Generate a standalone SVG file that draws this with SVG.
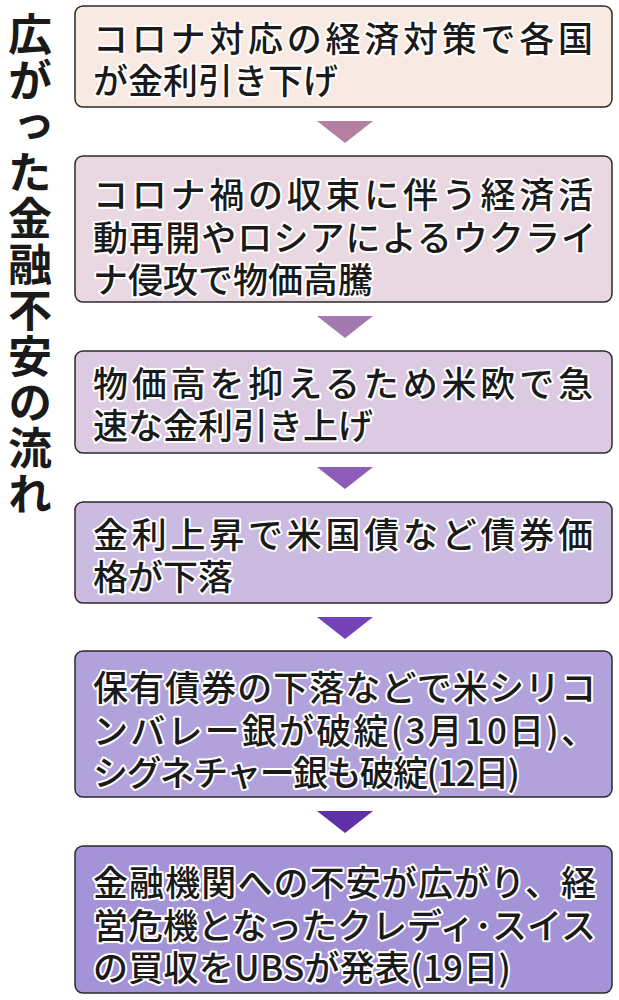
<svg xmlns="http://www.w3.org/2000/svg" width="619" height="1000" viewBox="0 0 619 1000">
<style>
.b{stroke:#2a2a2a;stroke-width:1.5}
.t{font-family:"Noto Sans CJK JP",sans-serif;font-size:35px;font-weight:500;fill:#1a1a1a;stroke:#fff;stroke-width:4;paint-order:stroke;stroke-linejoin:round}
.ti{font-family:"Noto Sans CJK JP",sans-serif;font-size:44px;font-weight:700;fill:#1a1a1a}
</style>
<rect width="619" height="1000" fill="#fff"/>
<g id="title"><text class="ti" x="30" y="12" style="writing-mode:vertical-rl;letter-spacing:2px">広がった金融不安の流れ</text></g>
<g id="connectors">
<polygon points="317,121 373,121 345,143" fill="#b4809f"/>
<polygon points="317,316 373,316 345,338" fill="#a27ab0"/>
<polygon points="317,467 373,467 345,489" fill="#8d5cb8"/>
<polygon points="317,617 373,617 345,639" fill="#7444b6"/>
<polygon points="317,811 373,811 345,833" fill="#5f30a8"/>
</g>
<g id="n1"><rect class="b" x="75" y="6" width="537" height="101" rx="8" fill="#f9e9e3"/>
<text class="t" x="93" y="52" textLength="500" lengthAdjust="spacing">コロナ対応の経済対策で各国</text><text class="t" x="93" y="94">が金利引き下げ</text></g>
<g id="n2"><rect class="b" x="75" y="156" width="537" height="146" rx="8" fill="#e9d8e1"/>
<text class="t" x="93" y="208" textLength="500" lengthAdjust="spacing">コロナ禍の収束に伴う経済活</text><text class="t" x="93" y="251" textLength="503" lengthAdjust="spacing">動再開やロシアによるウクライ</text><text class="t" x="93" y="293">ナ侵攻で物価高騰</text></g>
<g id="n3"><rect class="b" x="75" y="351" width="537" height="102" rx="8" fill="#dccae2"/>
<text class="t" x="93" y="397" textLength="500" lengthAdjust="spacing">物価高を抑えるため米欧で急</text><text class="t" x="93" y="439">速な金利引き上げ</text></g>
<g id="n4"><rect class="b" x="75" y="502" width="537" height="101" rx="8" fill="#cbbbe0"/>
<text class="t" x="93" y="548" textLength="500" lengthAdjust="spacing">金利上昇で米国債など債券価</text><text class="t" x="93" y="590">格が下落</text></g>
<g id="n5"><rect class="b" x="75" y="651" width="537" height="146" rx="8" fill="#b2a2dc"/>
<text class="t" x="93" y="701" textLength="503" lengthAdjust="spacing">保有債券の下落などで米シリコ</text><text class="t" x="93" y="744" textLength="503" lengthAdjust="spacing">ンバレー銀が破綻(3月10日)、</text><text class="t" x="93" y="786" textLength="427" lengthAdjust="spacing">シグネチャー銀も破綻(12日)</text></g>
<g id="n6"><rect class="b" x="75" y="846" width="537" height="147" rx="8" fill="#a593d8"/>
<text class="t" x="93" y="896" textLength="503" lengthAdjust="spacing">金融機関への不安が広がり、経</text><text class="t" x="93" y="939" textLength="503" lengthAdjust="spacing">営危機となったクレディ･スイス</text><text class="t" x="93" y="981" textLength="418" lengthAdjust="spacing">の買収をUBSが発表(19日)</text></g>
</svg>
